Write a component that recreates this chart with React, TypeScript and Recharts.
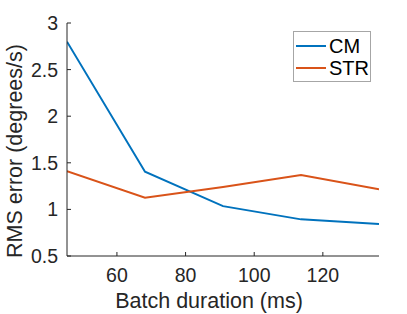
import { Label, Legend, Line, LineChart, XAxis, YAxis } from "recharts";

const DURATION = [45.45, 68.18, 90.91, 113.64, 136.36];
const CM = [2.8, 1.405, 1.035, 0.893, 0.843];
const STR = [1.41, 1.125, 1.24, 1.368, 1.215];
const X_TICKS = [60, 80, 100, 120];
const Y_TICKS = [0.5, 1, 1.5, 2, 2.5, 3];

const AZUL = "#0072BD";
const LARANJA = "#D95319";
const TINTA = "#262626";
const FONTE = "'Liberation Sans', Arial, Helvetica, sans-serif";

const data = DURATION.map((d, i) => ({ d, cm: CM[i], str: STR[i] }));

function Legenda({ payload }: any) {
  return (
    <div
      style={{
        border: "1px solid #a6a6a6",
        background: "#fff",
        width: 78,
        height: 51,
        boxSizing: "border-box",
        paddingTop: 3,
        fontFamily: FONTE,
        fontSize: 20,
        color: "#000",
      }}
    >
      {(payload || []).map((p: any) => (
        <div key={p.value} style={{ display: "flex", alignItems: "center", height: 22 }}>
          <span style={{ display: "inline-block", width: 30, height: 2, background: p.color, marginLeft: 2, marginRight: 3 }} />
          <span>{p.value}</span>
        </div>
      ))}
    </div>
  );
}

export default function App() {
  return (
    <div style={{ position: "absolute", left: 0, top: 0, width: 407, height: 314, background: "#fff" }}>
      <LineChart width={407} height={314} data={data} margin={{ top: 23, right: 28, bottom: 0, left: 7 }}>
        <XAxis
          type="number"
          dataKey="d"
          domain={[45.45, 136.36]}
          ticks={X_TICKS}
          allowDataOverflow
          height={58}
          stroke={TINTA}
          tickSize={-4}
          tickMargin={16}
          tick={{ fill: TINTA, fontSize: 19.5, fontFamily: FONTE }}
        >
          <Label
            content={() => (
              <text x={209} y={308} textAnchor="middle" fill={TINTA} fontSize={21.5} fontFamily={FONTE}>
                Batch duration (ms)
              </text>
            )}
          />
        </XAxis>
        <YAxis
          type="number"
          domain={[0.5, 3]}
          ticks={Y_TICKS}
          allowDataOverflow
          width={60}
          stroke={TINTA}
          tickSize={-4}
          tickMargin={13}
          tickFormatter={(v: number) => String(v)}
          tick={{ fill: TINTA, fontSize: 19.5, fontFamily: FONTE }}
        >
          <Label
            content={() => (
              <text
                x={22}
                y={151}
                transform="rotate(-90 22 151)"
                textAnchor="middle"
                fill={TINTA}
                fontSize={21.5}
                fontFamily={FONTE}
              >
                RMS error (degrees/s)
              </text>
            )}
          />
        </YAxis>
        <Legend
          layout="vertical"
          align="center"
          verticalAlign="middle"
          content={<Legenda />}
          wrapperStyle={{ top: 31, left: 293, width: 78 }}
        />
        <Line type="linear" dataKey="cm" name="CM" stroke={AZUL} strokeWidth={2} dot={false} isAnimationActive={false} />
        <Line type="linear" dataKey="str" name="STR" stroke={LARANJA} strokeWidth={2} dot={false} isAnimationActive={false} />
      </LineChart>
    </div>
  );
}
